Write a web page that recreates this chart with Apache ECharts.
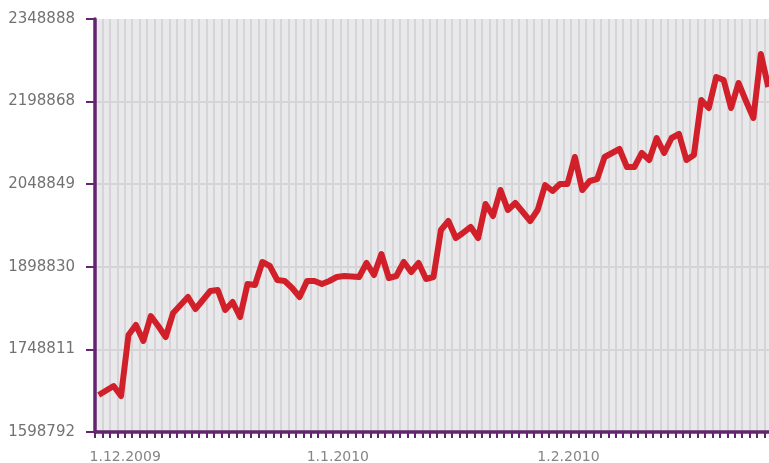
<!DOCTYPE html>
<html>
<head>
<meta charset="utf-8">
<script src="https://cdn.jsdelivr.net/npm/echarts@6/dist/echarts.min.js"></script>
<style>
  html, body { margin: 0; padding: 0; background: #fff; }
  #chart { width: 769px; height: 463px; }
</style>
</head>
<body>
<div id="chart"></div>
<script>
  // one value per day, starting 1.12.2009
  var startDate = [2009, 11, 1];
  var values = [
    1665990, 1674160, 1682340, 1664180, 1774960, 1793130, 1764070, 1809470, 1791310, 1771330,
    1814920, 1829450, 1843980, 1822190, 1838530, 1854880, 1856690, 1820370, 1834900, 1807660,
    1867590, 1865770, 1907550, 1900280, 1874850, 1873040, 1860330, 1843980, 1873040, 1873040,
    1867590, 1873040, 1880300, 1882120, 1881210, 1880300, 1905730, 1883940, 1922080, 1878490,
    1882120, 1907550, 1889380, 1905730, 1876670, 1880300, 1965660, 1982010, 1951140, 1960760,
    1971110, 1951140, 2012890, 1991090, 2038310, 2001990, 2014700, 1998360, 1982010, 2001990,
    2047390, 2036500, 2049210, 2049210, 2098250, 2038310, 2054660, 2058290, 2098250, 2105510,
    2112780, 2080090, 2080090, 2105510, 2092800, 2132760, 2105510, 2132760, 2140020, 2092800,
    2101880, 2201770, 2187240, 2243540, 2238090, 2187240, 2232650, 2199950, 2169080, 2285320,
    2225380
  ];
  var yMin = 1598792;
  var yMax = 2348888;
  var yTickLabels = ['1598792', '1748811', '1898830', '2048849', '2198868', '2348888'];
  var xTickLabels = ['1.12.2009', '1.1.2010', '1.2.2010'];

  var days = [];
  for (var i = 0; i < values.length; i++) {
    var d = new Date(Date.UTC(startDate[0], startDate[1], startDate[2] + i));
    days.push(d.getUTCDate() + '.' + (d.getUTCMonth() + 1) + '.' + d.getUTCFullYear());
  }

  var yStep = (yMax - yMin) / (yTickLabels.length - 1);
  var purple = '#63256f';

  var chart = echarts.init(document.getElementById('chart'));
  chart.setOption({
    animation: false,
    grid: {
      left: 95,
      top: 19,
      width: 677,
      bottom: 31,
      outerBoundsMode: 'none',
      show: true,
      backgroundColor: '#e9e9eb',
      borderWidth: 0
    },
    xAxis: {
      type: 'category',
      data: days,
      boundaryGap: true,
      axisLine: { lineStyle: { color: purple, width: 3.5 } },
      axisTick: {
        show: true,
        interval: 0,
        length: 6,
        lineStyle: { color: purple, width: 2 }
      },
      splitLine: {
        show: true,
        interval: 0,
        lineStyle: { color: '#d5d5d8', width: 2 }
      },
      axisLabel: {
        interval: function (idx, name) { return xTickLabels.indexOf(name) >= 0; },
        margin: 18,
        color: '#858585',
        fontFamily: 'DejaVu Sans',
        fontSize: 14,
        formatter: function (name) {
          return name === xTickLabels[0] ? '{first|' + name + '}' : '{mid|' + name + '}';
        },
        rich: {
          first: { padding: [0, 0, 0, 53], fontFamily: 'DejaVu Sans', fontSize: 14, color: '#858585' },
          mid: { padding: [0, 0, 0, 17], fontFamily: 'DejaVu Sans', fontSize: 14, color: '#858585' }
        }
      }
    },
    yAxis: {
      type: 'value',
      min: 0,
      max: yMax - yMin,
      interval: yStep,
      axisLine: { show: true, lineStyle: { color: purple, width: 3.5 } },
      axisTick: { show: true, length: 9, lineStyle: { color: purple, width: 2 } },
      splitLine: {
        show: true,
        showMaxLine: false,
        lineStyle: { color: '#d5d5d8', width: 2 }
      },
      axisLabel: {
        margin: 20,
        color: '#727272',
        fontFamily: 'DejaVu Sans',
        fontSize: 15,
        formatter: function (v) { return yTickLabels[Math.round(v / yStep)]; }
      }
    },
    series: [{
      type: 'line',
      data: values.map(function (v) { return v - yMin; }),
      showSymbol: false,
      lineStyle: { color: '#d2202a', width: 6, join: 'round' }
    }]
  });
</script>
</body>
</html>
